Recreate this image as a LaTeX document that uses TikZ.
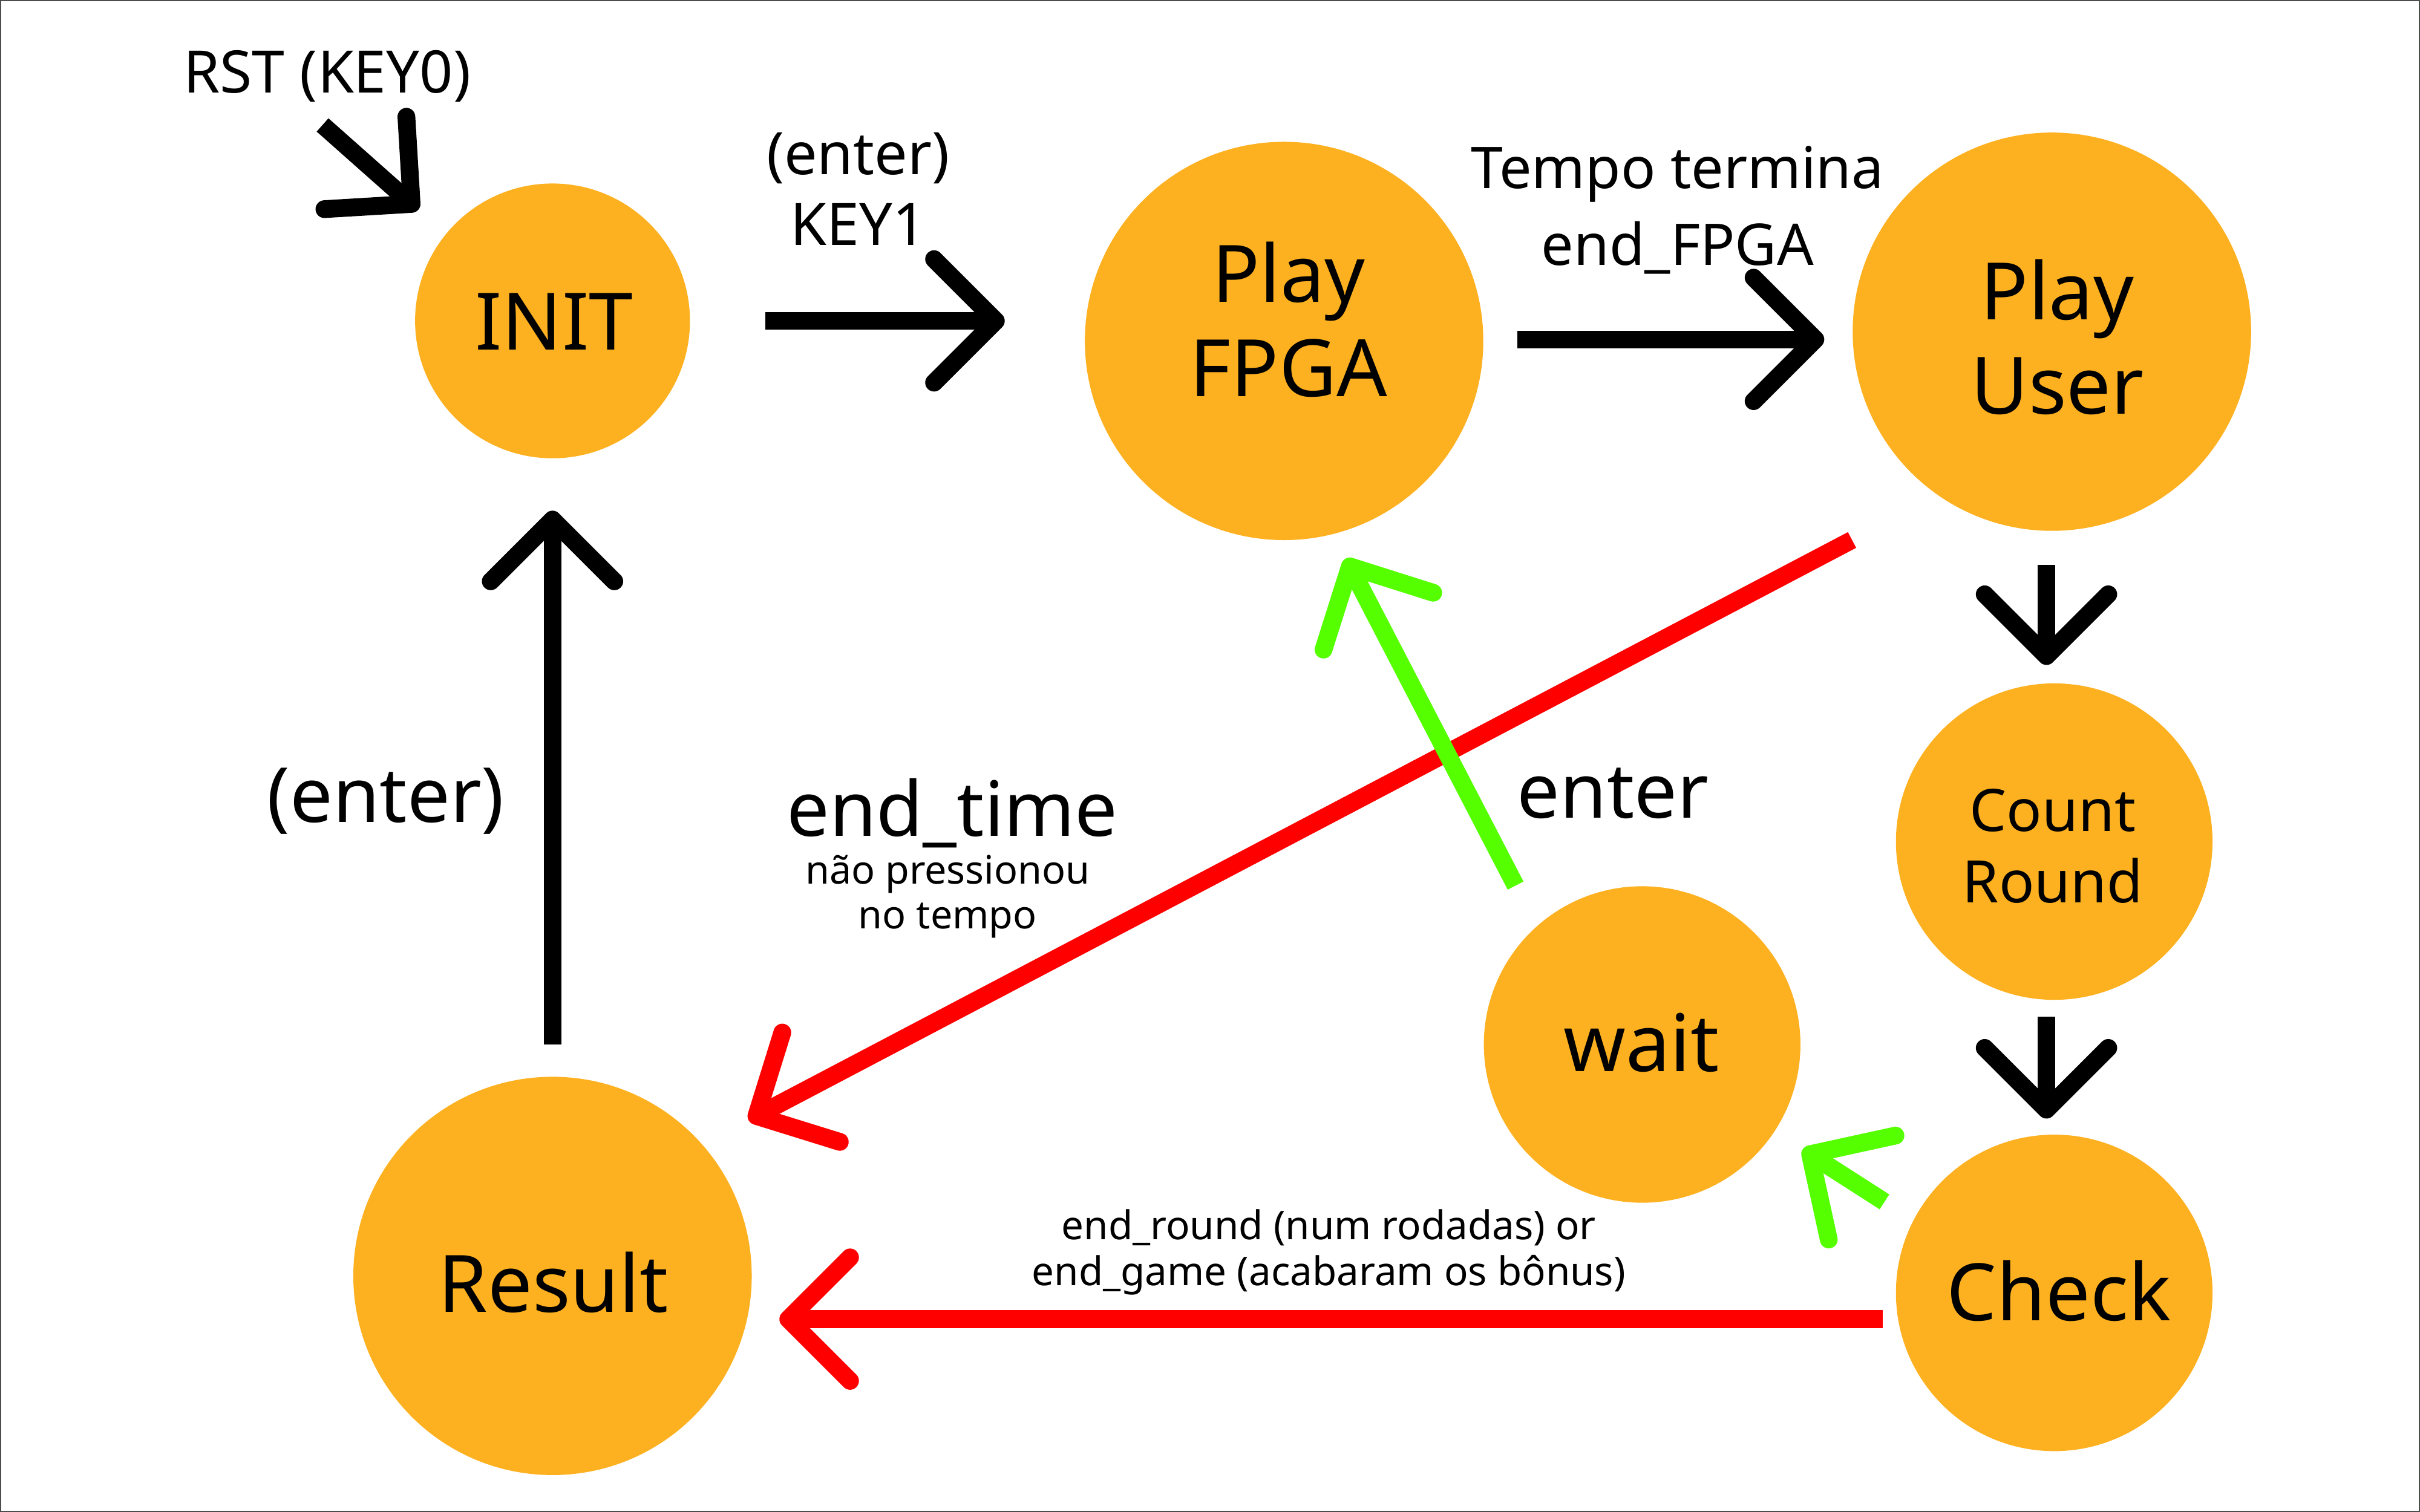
\documentclass[tikz,border=0pt]{standalone}
\usepackage{fontspec}
\setmainfont{Noto Sans}
\usetikzlibrary{arrows.meta}
\definecolor{stateorange}{HTML}{FDB120}
\definecolor{arrowgreen}{HTML}{55FF00}
\definecolor{arrowred}{HTML}{FF0000}
\newcommand\fsBig{\fontsize{14.6pt}{17.4pt}\selectfont}
\newcommand\fsLbl{\fontsize{14pt}{16.8pt}\selectfont}
\newcommand\fsMid{\fontsize{10.8pt}{13.1pt}\selectfont}
\newcommand\fsSmall{\fontsize{7.2pt}{8.3pt}\selectfont}
\begin{document}
\begin{tikzpicture}[x=0.01cm, y=-0.01cm,
  bigstate/.style={circle, fill=stateorange, inner sep=0pt, minimum size=2.58cm},
  midstate/.style={circle, fill=stateorange, inner sep=0pt, minimum size=2.05cm},
  initstate/.style={circle, fill=stateorange, inner sep=0pt, minimum size=1.78cm},
  txt/.style={inner sep=0pt, anchor=base, align=center},
  conn/.style={line width=1.15mm, -{Straight Barb[length=4mm, width=8mm, round]}},
  blackconn/.style={conn, draw=black},
  redconn/.style={conn, draw=arrowred},
  greenconn/.style={conn, draw=arrowgreen}
]
\useasboundingbox (0,0) rectangle (1568,980);
\draw[black!70, line width=0.2pt] (0.4,0.4) rectangle (1567.6,979.6);

% states
\node[initstate] (init) at (358,208) {};
\node[bigstate] (fpga) at (832,221) {};
\node[bigstate] (user) at (1329.5,215) {};
\node[midstate] (count) at (1331,545.5) {};
\node[midstate] (check) at (1331,838) {};
\node[midstate] (wait) at (1064,677) {};
\node[bigstate] (result) at (358,827) {};

% state texts (anchor base = baseline of the last line)
\node[txt, font=\fsBig] (initt) at (359,226.6) {INIT};
\node[txt, font=\fsBig] (fpgat) at (835,257) {Play\\FPGA};
\node[txt, font=\fsBig] (usert) at (1333,268.5) {Play\\User};
\node[txt, font=\fsMid] (countt) at (1330,585) {Count\\Round};
\node[txt, font=\fsBig] (checkt) at (1334,856) {Check};
\node[txt, font=\fsBig] (waitt) at (1063.5,694.6) {wait};
\node[txt, font=\fsBig] (resultt) at (358.6,850.6) {Result};

% connector end points
\coordinate (rsts) at (209,81);   \coordinate (rste) at (271,136);
\coordinate (ifs) at (496,208);   \coordinate (ife) at (651,208);
\coordinate (fus) at (983,220);   \coordinate (fue) at (1182,220);
\coordinate (ucs) at (1326,366);  \coordinate (uce) at (1326,431);
\coordinate (ccs) at (1326,659);  \coordinate (cce) at (1326,725);
\coordinate (ris) at (358,677);   \coordinate (rie) at (358,331);
\coordinate (urs) at (1200,350);  \coordinate (ure) at (485,726);
\coordinate (crs) at (1220,855);  \coordinate (cre) at (505,855);
\coordinate (wfs) at (982,574);   \coordinate (wfe) at (872,362);
\coordinate (cws) at (1221,779);  \coordinate (cwe) at (1168,745);

% black transitions
\draw[blackconn] (rsts) -- (rste);
\draw[blackconn] (ifs) -- (ife);
\draw[blackconn] (fus) -- (fue);
\draw[blackconn] (ucs) -- (uce);
\draw[blackconn] (ccs) -- (cce);
\draw[blackconn] (ris) -- (rie);
% red transitions
\draw[redconn] (urs) -- (ure);
\draw[redconn] (crs) -- (cre);
% green transitions
\draw[greenconn] (wfs) -- (wfe);
\draw[greenconn] (cws) -- (cwe);

% labels
\node[txt, font=\fsMid] (rstl) at (212,60) {RST (KEY0)};
\node[txt, font=\fsMid] (keyl) at (556,159) {(enter)\\KEY1};
\node[txt, font=\fontsize{10.6pt}{14.2pt}\selectfont] (tempol) at (1087,172) {Tempo termina\\end\_FPGA};
\node[txt, font=\fsLbl] (enterl) at (250,533) {(enter)};
\node[txt, font=\fsLbl] (endtimel) at (617,542) {end\_time};
\node[txt, font=\fsSmall] (naol) at (614,602) {não pressionou\\no tempo};
\node[txt, font=\fsLbl] (waitl) at (1045,530) {enter};
\node[txt, font=\fontsize{7.3pt}{8.5pt}\selectfont] (endl) at (861,833.4) {end\_round (num rodadas) or\\end\_game (acabaram os bônus)};
\end{tikzpicture}
\end{document}
